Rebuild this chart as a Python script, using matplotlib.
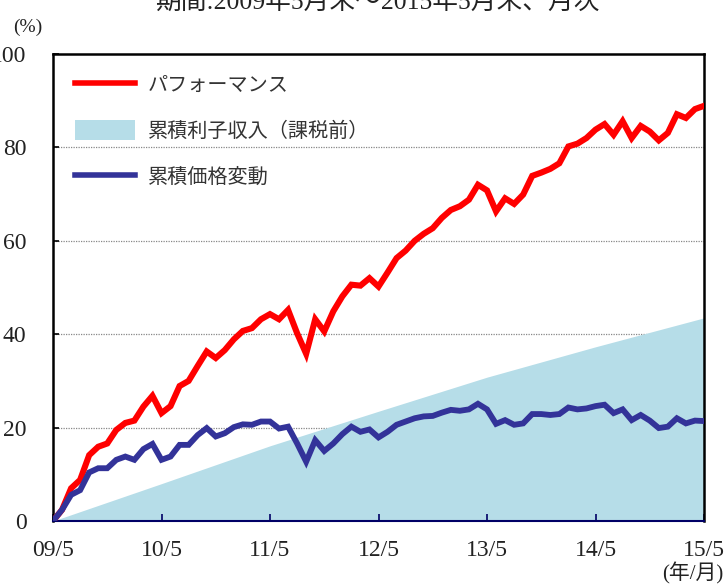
import numpy as np
import matplotlib
matplotlib.use('Agg')
import matplotlib.pyplot as plt
from matplotlib.lines import Line2D
from matplotlib.patches import Patch

plt.rcParams['font.family'] = ['Liberation Serif', 'Noto Sans CJK JP', 'DejaVu Sans']

# monthly data, 2009/5 .. 2015/5 (73 points), cumulative %
months = np.arange(73)
performance = [0, 2.4, 7.0, 8.8, 14.1, 15.9, 16.6, 19.5, 21.0, 21.5,
               24.5, 26.8, 23.1, 24.6, 28.9, 30.0, 33.2, 36.3, 34.9, 36.6,
               38.9, 40.7, 41.3, 43.2, 44.3, 43.2, 45.2, 40.2, 35.8, 43.2,
               40.6, 44.9, 48.1, 50.6, 50.4, 52.0, 50.2, 53.2, 56.3, 57.9,
               60.0, 61.5, 62.7, 64.9, 66.6, 67.4, 68.8, 72.0, 70.8, 66.3,
               69.1, 67.9, 69.9, 73.9, 74.6, 75.4, 76.6, 80.2, 80.8, 82.0,
               83.8, 85.0, 82.7, 85.6, 82.0, 84.6, 83.4, 81.5, 83.1, 87.1,
               86.3, 88.2, 88.9]
price_change = [0, 2.4, 5.6, 6.6, 10.4, 11.3, 11.3, 13.1, 13.8, 13.1,
                15.4, 16.5, 13.1, 13.8, 16.3, 16.3, 18.4, 19.9, 18.1, 18.8,
                20.1, 20.7, 20.6, 21.3, 21.3, 19.8, 20.2, 16.6, 12.7, 17.3,
                15.0, 16.6, 18.6, 20.2, 19.1, 19.6, 17.9, 19.1, 20.6, 21.3,
                22.0, 22.4, 22.5, 23.2, 23.8, 23.6, 23.9, 25.1, 23.9, 20.8,
                21.6, 20.6, 20.9, 22.9, 22.9, 22.7, 22.9, 24.3, 23.9, 24.1,
                24.6, 24.9, 23.1, 23.9, 21.6, 22.7, 21.5, 19.9, 20.2, 22.0,
                20.9, 21.5, 21.4]
interest_months = [0, 12, 24, 36, 48, 60, 72]
interest = [0, 8.0, 16.1, 23.5, 30.8, 37.3, 43.5]

xtick_labels = ['09/5', '10/5', '11/5', '12/5', '13/5', '14/5', '15/5']
label_perf = 'パフォーマンス'
label_int = '累積利子収入（課税前）'
label_price = '累積価格変動'

red = '#FF0000'
navy = '#333399'
light_blue = '#B6DDE8'

fig = plt.figure(figsize=(7.27, 5.85), dpi=100)
ax = fig.add_axes([53/727, 64/585, 651/727, 467/585])

ax.fill_between(interest_months, 0, interest, color=light_blue, lw=0, zorder=1)
ax.plot(months, performance, color=red, lw=4.4, solid_joinstyle='miter', zorder=3)
ax.plot(months, price_change, color=navy, lw=4.2, solid_joinstyle='miter', zorder=3)

ax.set_xlim(0, 72)
ax.set_ylim(0, 100)
ax.set_xticks(interest_months)
ax.set_xticklabels(xtick_labels)
ax.set_yticks(np.arange(0, 101, 20))

for y in [20, 40, 60, 80]:
    ax.axhline(y, color='#888888', lw=0.9, ls=(0, (1, 1)), zorder=0.5)

for s in ['left', 'top', 'right']:
    ax.spines[s].set_linewidth(1.8)
    ax.spines[s].set_color('black')
ax.spines['bottom'].set_color('#000066')
ax.spines['bottom'].set_linewidth(1.5)

ax.tick_params(axis='y', direction='in', length=4, width=1.2, colors='black',
               labelsize=17, pad=19)
ax.tick_params(axis='x', direction='in', length=5, width=1.2, color='#000066',
               labelcolor='#222222', labelsize=17, pad=14)
for lab in ax.get_yticklabels():
    lab.set_color('#222222')

handles = [Line2D([], [], color=red, lw=4),
           Patch(facecolor=light_blue, edgecolor='none'),
           Line2D([], [], color=navy, lw=4)]
leg = ax.legend(handles, [label_perf, label_int, label_price],
                loc='upper left', bbox_to_anchor=(22/651, 1 - 20.5/467),
                frameon=False, fontsize=14.5, handlelength=3.0, handleheight=1.15,
                labelspacing=1.2, handletextpad=0.6, borderpad=0, borderaxespad=0)
for t in leg.get_texts():
    t.set_color('#333333')

fig.text(13/727, 1 - 27/585, '(%)', fontsize=14, color='#222222', va='center', ha='left')
fig.text(723/727, 1 - 573/585, '(年/月)', fontsize=15, color='#222222', va='center', ha='right')
fig.text(377/727, 1 - 9/585, '期間:2009年5月末～2015年5月末、月次', fontsize=18.5,
         color='#222222', ha='center', va='baseline')

fig.savefig('out.png', dpi=100)
